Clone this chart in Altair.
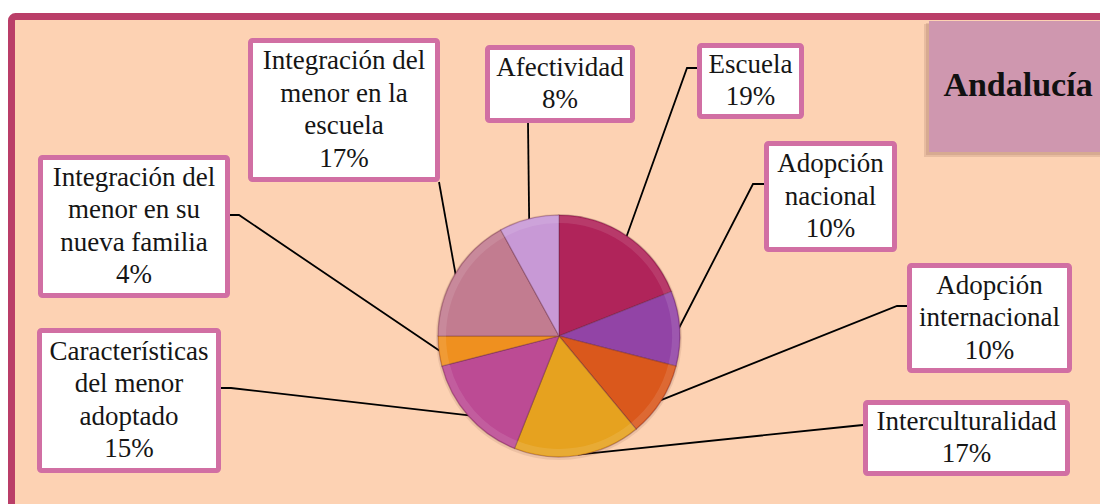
import math
import altair as alt
import pandas as pd

# ---------------- data ----------------
categories = [
    "Escuela",
    "Adopción nacional",
    "Adopción internacional",
    "Interculturalidad",
    "Características del menor adoptado",
    "Integración del menor en su nueva familia",
    "Integración del menor en la escuela",
    "Afectividad",
]
values = [19, 10, 10, 17, 15, 4, 17, 8]
wrapped_names = [
    ["Escuela"],
    ["Adopción", "nacional"],
    ["Adopción", "internacional"],
    ["Interculturalidad"],
    ["Características", "del menor", "adoptado"],
    ["Integración del", "menor en su", "nueva familia"],
    ["Integración del", "menor en la", "escuela"],
    ["Afectividad"],
]
colors = ["#B0245A", "#9244A6", "#DA581C", "#E6A21F", "#BC4B94", "#EF901F", "#C27C90", "#C899D6"]
title_text = "Andalucía"

# ---------------- layout (pixels) ----------------
W, H = 1100, 504
CX, CY, R = 559, 336, 121
FONT = "Liberation Serif, Times New Roman, DejaVu Serif, serif"
FS, LH = 27, 32.5
box_x0 = [697, 764, 907, 863, 37, 38, 248, 485]
box_x1 = [804, 897, 1072, 1070, 221, 230, 440, 635]
box_y0 = [43, 141, 263, 400, 328, 155, 38, 45]
box_y1 = [119, 252, 373, 476, 473, 298, 182, 123]
anchor_x = [697, 764, 907, 863, 221, 230, 439, 528]
anchor_y = [68, 184, 306, 425, 388, 215, 182, 123]
elbow_x = [687, 753, 897, 853, 231, 239, 439, 528]
elbow_y = [68, 184, 306, 426, 388, 215, 182, 123]
BW = 5  # box border width

xs = alt.Scale(domain=[0, W], nice=False, zero=False)
ys = alt.Scale(domain=[0, H], nice=False, zero=False, reverse=True)

# background frame
frame_df = pd.DataFrame({"x0": [11.5], "x1": [1120], "y0": [16.5], "y1": [530]})
frame = alt.Chart(frame_df).mark_rect(
    fill="#FDD2B3", stroke="#BA3E68", strokeWidth=7, cornerRadius=4
).encode(
    x=alt.X("x0:Q", scale=xs, axis=None), x2="x1:Q",
    y=alt.Y("y0:Q", scale=ys, axis=None), y2="y1:Q",
)

# title box + soft shadow
tshadow_df = pd.DataFrame({"x0": [924, 926], "x1": [1106, 1108], "y0": [24, 23], "y1": [157, 155]})
tshadow = alt.Chart(tshadow_df).mark_rect(fill="#8B5A4E", opacity=0.18).encode(
    x=alt.X("x0:Q", scale=xs, axis=None), x2="x1:Q",
    y=alt.Y("y0:Q", scale=ys, axis=None), y2="y1:Q",
)
tbox_df = pd.DataFrame({"x0": [929], "x1": [1110], "y0": [21], "y1": [152]})
tbox = alt.Chart(tbox_df).mark_rect(fill="#CF97AF").encode(
    x=alt.X("x0:Q", scale=xs, axis=None), x2="x1:Q",
    y=alt.Y("y0:Q", scale=ys, axis=None), y2="y1:Q",
)
ttext = alt.Chart(pd.DataFrame({"x": [1018], "y": [86], "t": [title_text]})).mark_text(
    font=FONT, fontSize=34, fontWeight="bold", color="#111111",
    align="center", baseline="middle"
).encode(
    x=alt.X("x:Q", scale=xs, axis=None), y=alt.Y("y:Q", scale=ys, axis=None), text="t:N"
)

# pie
pie_df = pd.DataFrame({"cat": categories, "value": values, "idx": list(range(len(values)))})
pie_shadow = alt.Chart(pd.DataFrame({"a": [1]})).mark_arc(
    theta=0, theta2=2 * math.pi, radius=R + 2, fill="#7A4A3A", opacity=0.12
).encode(x=alt.value(CX), y=alt.value(CY + 1))

pie = alt.Chart(pie_df).mark_arc(
    radius=R, stroke="#5A2038", strokeOpacity=0.35, strokeWidth=1.2
).encode(
    theta=alt.Theta("value:Q", stack=True),
    order=alt.Order("idx:Q"),
    color=alt.Color("cat:N", scale=alt.Scale(domain=categories, range=colors), legend=None),
    x=alt.value(CX), y=alt.value(CY),
)
pie_rim = alt.Chart(pie_df).mark_arc(
    radius=R - 1, radius2=R - 8, fill="#FFFFFF", opacity=0.10
).encode(
    theta=alt.Theta("value:Q", stack=True),
    order=alt.Order("idx:Q"),
    x=alt.value(CX), y=alt.value(CY),
)

# leader lines: box anchor -> elbow -> slice mid-angle on pie edge
total = sum(values)
rows = []
cum = 0
for i, v in enumerate(values):
    mid = (cum + v / 2) / total * 2 * math.pi
    cum += v
    px = CX + (R - 1) * math.sin(mid)
    py = CY - (R - 1) * math.cos(mid)
    rows.append({"cat": categories[i], "k": 0, "x": anchor_x[i], "y": anchor_y[i]})
    rows.append({"cat": categories[i], "k": 1, "x": elbow_x[i], "y": elbow_y[i]})
    rows.append({"cat": categories[i], "k": 2, "x": px, "y": py})
lines_df = pd.DataFrame(rows)
leaders = alt.Chart(lines_df).mark_line(color="#000000", strokeWidth=1.8).encode(
    x=alt.X("x:Q", scale=xs, axis=None), y=alt.Y("y:Q", scale=ys, axis=None),
    detail="cat:N", order="k:Q",
)

# label boxes
half = BW / 2
box_df = pd.DataFrame({
    "cat": categories,
    "x0": [a + half for a in box_x0], "x1": [b - half for b in box_x1],
    "y0": [a + half for a in box_y0], "y1": [b - half for b in box_y1],
})
boxes = alt.Chart(box_df).mark_rect(
    fill="#FFFFFF", stroke="#D16FA3", strokeWidth=BW, cornerRadius=2
).encode(
    x=alt.X("x0:Q", scale=xs, axis=None), x2="x1:Q",
    y=alt.Y("y0:Q", scale=ys, axis=None), y2="y1:Q",
)

label_vals = []
for i, v in enumerate(values):
    lines = wrapped_names[i] + [f"{v}%"]
    label_vals.append({
        "cat": categories[i],
        "lines": lines,
        "x": (box_x0[i] + box_x1[i]) / 2,
        "y": (box_y0[i] + box_y1[i]) / 2 - (len(lines) - 1) * LH / 2,
    })
labels = alt.Chart(alt.Data(values=label_vals)).mark_text(
    font=FONT, fontSize=FS, lineHeight=LH, color="#151515",
    align="center", baseline="middle"
).encode(
    x=alt.X("x:Q", scale=xs, axis=None), y=alt.Y("y:Q", scale=ys, axis=None),
    text="lines:N",
)

chart = alt.layer(
    frame, tshadow, tbox, ttext, leaders, pie_shadow, pie, pie_rim, boxes, labels
).properties(
    width=W, height=H, padding=0, autosize=alt.AutoSizeParams(type="none"),
    background="#FFFFFF"
).configure_view(stroke=None)

chart.save("out.html", embed_options={"renderer": "svg", "actions": False})
